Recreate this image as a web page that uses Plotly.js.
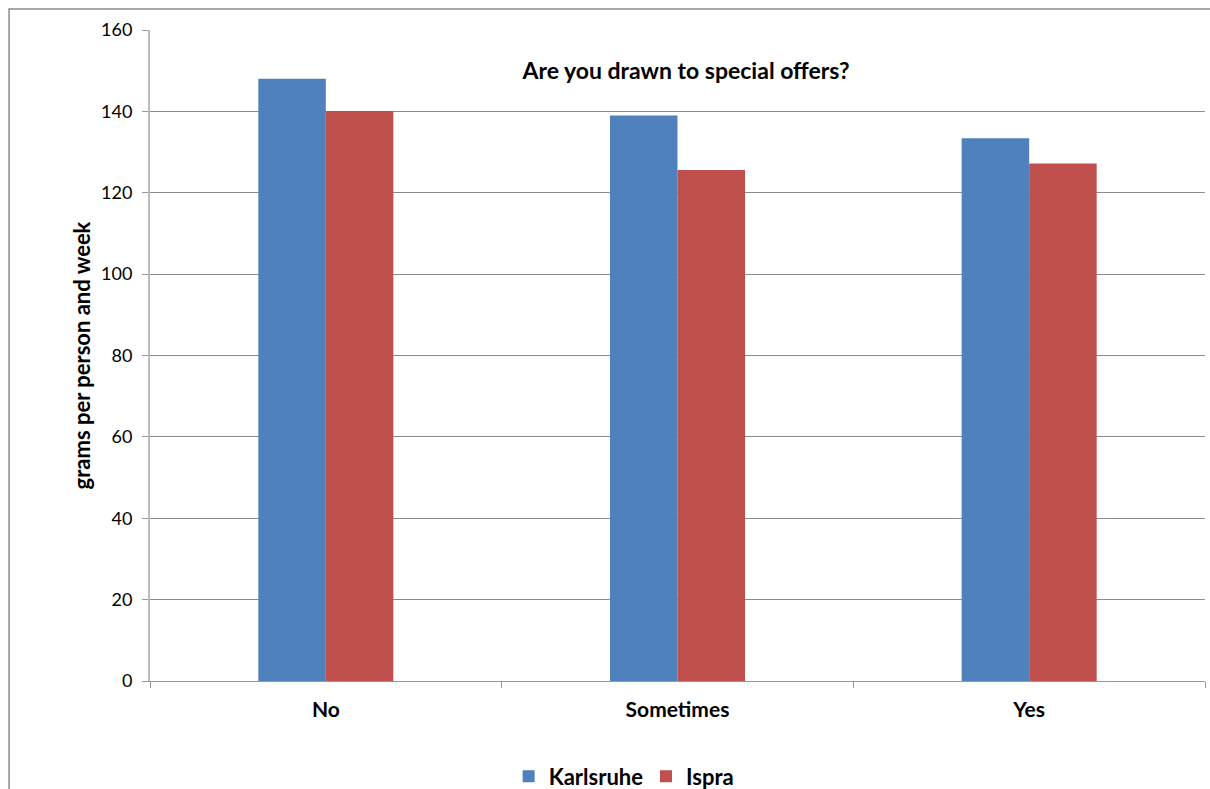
<!DOCTYPE html>
<html><head><meta charset="utf-8">
<script src="https://cdn.plot.ly/plotly-3.0.1.min.js"></script>
<style>body{margin:0;background:#fff}#c{width:1210px;height:789px}</style>
</head><body><div id="c"></div>
<script>
const categories = ["No", "Sometimes", "Yes"];
const karlsruhe = [148.0, 139.0, 133.4];
const ispra = [140.1, 125.6, 127.2];
const yTicks = [0, 20, 40, 60, 80, 100, 120, 140, 160];

const font = "Lato, 'Open Sans', sans-serif";
const traces = [
  {type: "bar", name: "Karlsruhe", x: categories, y: karlsruhe, marker: {color: "#4F81BD"}},
  {type: "bar", name: "Ispra", x: categories, y: ispra, marker: {color: "#C0504D"}}
];
const layout = {
  width: 1210, height: 789,
  margin: {l: 150, r: 5, t: 30, b: 108},
  paper_bgcolor: "#fff", plot_bgcolor: "#fff",
  barmode: "group", bargap: 0.616, bargroupgap: 0,
  showlegend: true,
  font: {family: font, color: "#000", size: 18},
  title: {text: "<b>Are you drawn to special offers?</b>", font: {size: 23, family: font}, x: 0.567, xanchor: "center", xref: "container", y: 0.91, yanchor: "middle", yref: "container"},
  xaxis: {
    type: "category", tickson: "boundaries", ticks: "outside", ticklen: 6, tickcolor: "#999",
    showline: true, linecolor: "#999", linewidth: 1, showgrid: false,
    tickfont: {size: 21, family: font}, ticklabelstandoff: 10,
    tickvals: categories, ticktext: categories.map(c => "<b>" + c + "</b>")
  },
  yaxis: {
    range: [0, 160], tickvals: yTicks, ticks: "outside", ticklen: 6, tickcolor: "#999",
    showline: true, linecolor: "#bbb", linewidth: 2, gridcolor: "#8c8c8c", gridwidth: 1,
    zeroline: false, tickfont: {size: 18, family: font}, automargin: false, ticklabelstandoff: 6,
    title: {text: "<b>grams per person and week</b>", font: {size: 22, family: font}, standoff: 4}
  },
  legend: {orientation: "h", x: 0.515, xanchor: "center", xref: "container", y: 0.016, yanchor: "middle", yref: "container",
    font: {size: 22, family: font}, traceorder: "normal"},
  shapes: [
    {type: "rect", xref: "paper", yref: "paper", x0: -0.1336, x1: 1.1, y0: -0.4, y1: 1.0323,
     line: {color: "#8a8a8a", width: 1.5}, fillcolor: "rgba(0,0,0,0)", layer: "below"}
  ]
};
Plotly.newPlot("c", traces, layout, {displayModeBar: false, staticPlot: true}).then(() => {
  document.querySelectorAll(".legendtext").forEach(t => t.style.fontWeight = "bold");
});
</script></body></html>
